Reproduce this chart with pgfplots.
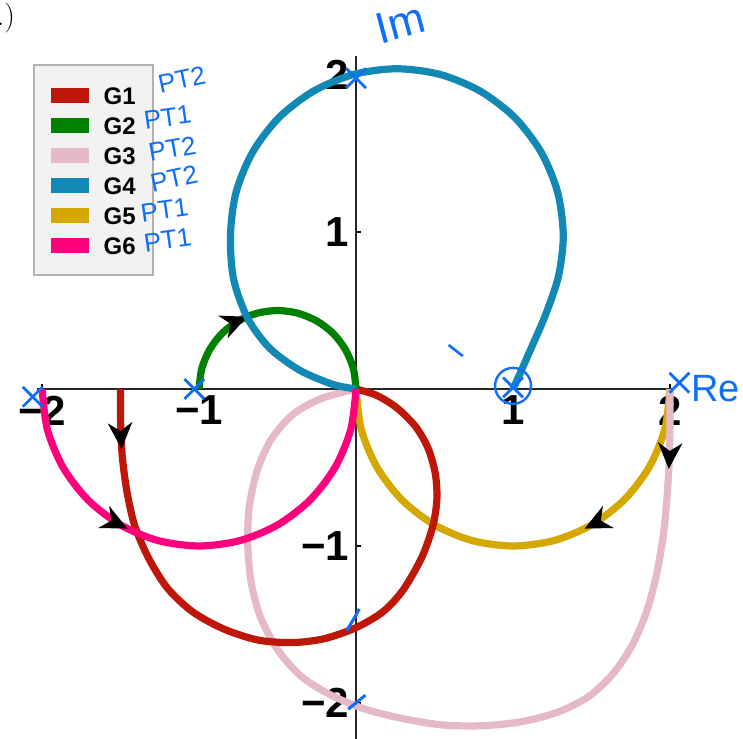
\documentclass[border=0pt]{standalone}
\usepackage{fontspec}
\usepackage{pgfplots}
\pgfplotsset{compat=1.18}
\usetikzlibrary{decorations.markings, arrows.meta}
\newfontfamily\lsans{Liberation Sans}
\definecolor{g1}{RGB}{190,22,8}
\definecolor{g2}{RGB}{0,128,0}
\definecolor{g3}{RGB}{230,185,200}
\definecolor{g4}{RGB}{18,136,180}
\definecolor{g5}{RGB}{212,168,0}
\definecolor{g6}{RGB}{255,0,125}
\definecolor{ink}{RGB}{15,110,250}
\tikzset{
  arrowat/.style={postaction={decorate}, decoration={markings,
     mark=at position #1 with {\arrow[black]{Stealth[length=13pt,width=12pt,inset=4pt]}}}},
}
\begin{document}
\begin{tikzpicture}
\begin{axis}[
  x=78.5pt, y=78.5pt,
  xmin=-2.03, xmax=2.02, ymin=-2.26, ymax=2.12,
  axis lines=middle, axis line style={line width=0.7pt, black!85, -},
  clip=false,
  xtick={-2,-1,1,2}, xticklabels={−2,−1,1,2},
  ytick={-2,-1,1,2}, yticklabels={−2,−1,1,2},
  minor x tick num=4, minor y tick num=4,
  tick align=inside,
  major tick length=2.5pt, minor tick length=2.5pt,
  tick style={black, line width=0.6pt},
  ticklabel style={font=\lsans\bfseries\fontsize{21}{24}\selectfont},
  legend style={at={(axis cs:-2.06,2.07)}, anchor=north west,
     draw=black!30, line width=1pt, fill=black!5,
     inner xsep=5pt, inner ysep=7.5pt,
     font=\lsans\bfseries\fontsize{12}{14}\selectfont,
     nodes={inner xsep=3.5pt, inner ysep=3pt, text height=9pt, text depth=0pt},
     row sep=0pt},
  legend cell align=left,
  legend image code/.code={\draw[#1, line width=7.5pt, line cap=butt] (0pt,0pt) -- (19pt,0pt);},
]
% G5 yellow
\addplot[g5, line width=3.6pt, smooth, forget plot, arrowat=86pt] coordinates {
(2,0) (1.966,-0.259) (1.866,-0.5) (1.707,-0.707) (1.5,-0.866) (1.259,-0.966) (1,-1)
(0.741,-0.966) (0.5,-0.866) (0.293,-0.707) (0.134,-0.5) (0.034,-0.259) (0,0)};
% G3 pink
\addplot[g3, line width=3.6pt, smooth, forget plot, arrowat=40pt] coordinates {
(2,0) (2,-0.2) (1.995,-0.45) (1.98,-0.7) (1.955,-0.95) (1.91,-1.2) (1.85,-1.42)
(1.76,-1.63) (1.64,-1.81) (1.48,-1.96) (1.28,-2.06) (1.05,-2.12) (0.8,-2.145)
(0.55,-2.14) (0.3,-2.1) (0.06,-2.04) (-0.16,-1.95) (-0.35,-1.83) (-0.5,-1.66)
(-0.61,-1.45) (-0.67,-1.22) (-0.69,-0.98) (-0.68,-0.75) (-0.63,-0.52) (-0.54,-0.32)
(-0.4,-0.16) (-0.22,-0.06) (0,0)};
% G1 red
\addplot[g1, line width=3.6pt, smooth, forget plot, arrowat=30pt] coordinates {
(-1.5,0) (-1.5,-0.2) (-1.49,-0.42) (-1.46,-0.65) (-1.41,-0.87) (-1.32,-1.08)
(-1.2,-1.27) (-1.04,-1.42) (-0.84,-1.53) (-0.62,-1.6) (-0.4,-1.615) (-0.2,-1.59)
(0,-1.52) (0.17,-1.42) (0.3,-1.28) (0.42,-1.07) (0.49,-0.87) (0.515,-0.7)
(0.505,-0.54) (0.46,-0.38) (0.38,-0.24) (0.26,-0.12) (0.13,-0.04) (0,0)};
% G2 green
\addplot[g2, line width=3.6pt, smooth, forget plot, arrowat=46pt] coordinates {
(-1,0) (-0.983,0.129) (-0.933,0.25) (-0.854,0.354) (-0.75,0.433) (-0.629,0.483)
(-0.5,0.5) (-0.371,0.483) (-0.25,0.433) (-0.146,0.354) (-0.067,0.25) (-0.017,0.129) (0,0)};
% G4 blue
\addplot[g4, line width=3.6pt, smooth, forget plot] coordinates {
(0,0) (-0.15,0.03) (-0.36,0.12) (-0.55,0.26) (-0.69,0.45) (-0.78,0.7) (-0.80,0.98)
(-0.764,1.254) (-0.658,1.51) (-0.49,1.73) (-0.27,1.898) (-0.014,2.004) (0.26,2.04)
(0.534,2.004) (0.79,1.898) (1.01,1.73) (1.178,1.51) (1.284,1.254) (1.32,0.98)
(1.29,0.72) (1.21,0.48) (1.12,0.27) (1.045,0.1) (1,0)};
% G6 magenta
\addplot[g6, line width=3.6pt, smooth, forget plot, arrowat=86pt] coordinates {
(-2,0) (-1.966,-0.259) (-1.866,-0.5) (-1.707,-0.707) (-1.5,-0.866) (-1.259,-0.966) (-1,-1)
(-0.741,-0.966) (-0.5,-0.866) (-0.293,-0.707) (-0.134,-0.5) (-0.034,-0.259) (0,0)};
% handwritten marks
\addplot[ink, only marks, mark=x, mark size=7pt, line width=1.4pt, forget plot] coordinates {
(-2.06,-0.05) (-1.03,0) (0,1.98) (1.0,0.01) (2.06,0.04)};
\addplot[ink, only marks, mark=o, mark size=9pt, line width=1.2pt, forget plot] coordinates {(1.0,0.02)};
\addplot[ink, line width=1.5pt, forget plot] coordinates {(-0.06,-1.54) (0.0,-1.44) (0.02,-1.4)};
\addplot[ink, line width=1.5pt, forget plot] coordinates {(-0.05,-2.04) (0.06,-1.95)};
\addplot[ink, line width=1.3pt, forget plot] coordinates {(0.59,0.28) (0.68,0.21)};
\addlegendimage{g1}\addlegendentry{G1}
\addlegendimage{g2}\addlegendentry{G2}
\addlegendimage{g3}\addlegendentry{G3}
\addlegendimage{g4}\addlegendentry{G4}
\addlegendimage{g5}\addlegendentry{G5}
\addlegendimage{g6}\addlegendentry{G6}
\node[anchor=base east, font=\fontsize{15}{18}\selectfont] at (axis cs:-2.127,2.318) {a.)};
\coordinate (p1) at (axis cs:-1.11,1.97);
\coordinate (p2) at (axis cs:-1.2,1.73);
\coordinate (p3) at (axis cs:-1.17,1.53);
\coordinate (p4) at (axis cs:-1.16,1.34);
\coordinate (p5) at (axis cs:-1.22,1.14);
\coordinate (p6) at (axis cs:-1.2,0.95);
\coordinate (pim) at (axis cs:0.28,2.33);
\coordinate (pre) at (axis cs:2.29,0.0);
\coordinate (bbl) at (axis cs:-2.268,-2.229);
\coordinate (btr) at (axis cs:2.465,2.478);
\end{axis}
\begin{scope}[ink, font=\lsans\fontsize{13}{15}\selectfont, inner sep=1pt]
\node[rotate=12] at (p1) {PT2};
\node[rotate=8] at (p2) {PT1};
\node[rotate=10] at (p3) {PT2};
\node[rotate=12] at (p4) {PT2};
\node[rotate=8] at (p5) {PT1};
\node[rotate=8] at (p6) {PT1};
\end{scope}
\node[ink, rotate=15, inner sep=1pt, font=\lsans\fontsize{22}{24}\selectfont] at (pim) {Im};
\node[ink, font=\lsans\fontsize{19}{21}\selectfont] at (pre) {Re};
\pgfresetboundingbox
\path[use as bounding box] (bbl) rectangle (btr);
\end{tikzpicture}
\end{document}
